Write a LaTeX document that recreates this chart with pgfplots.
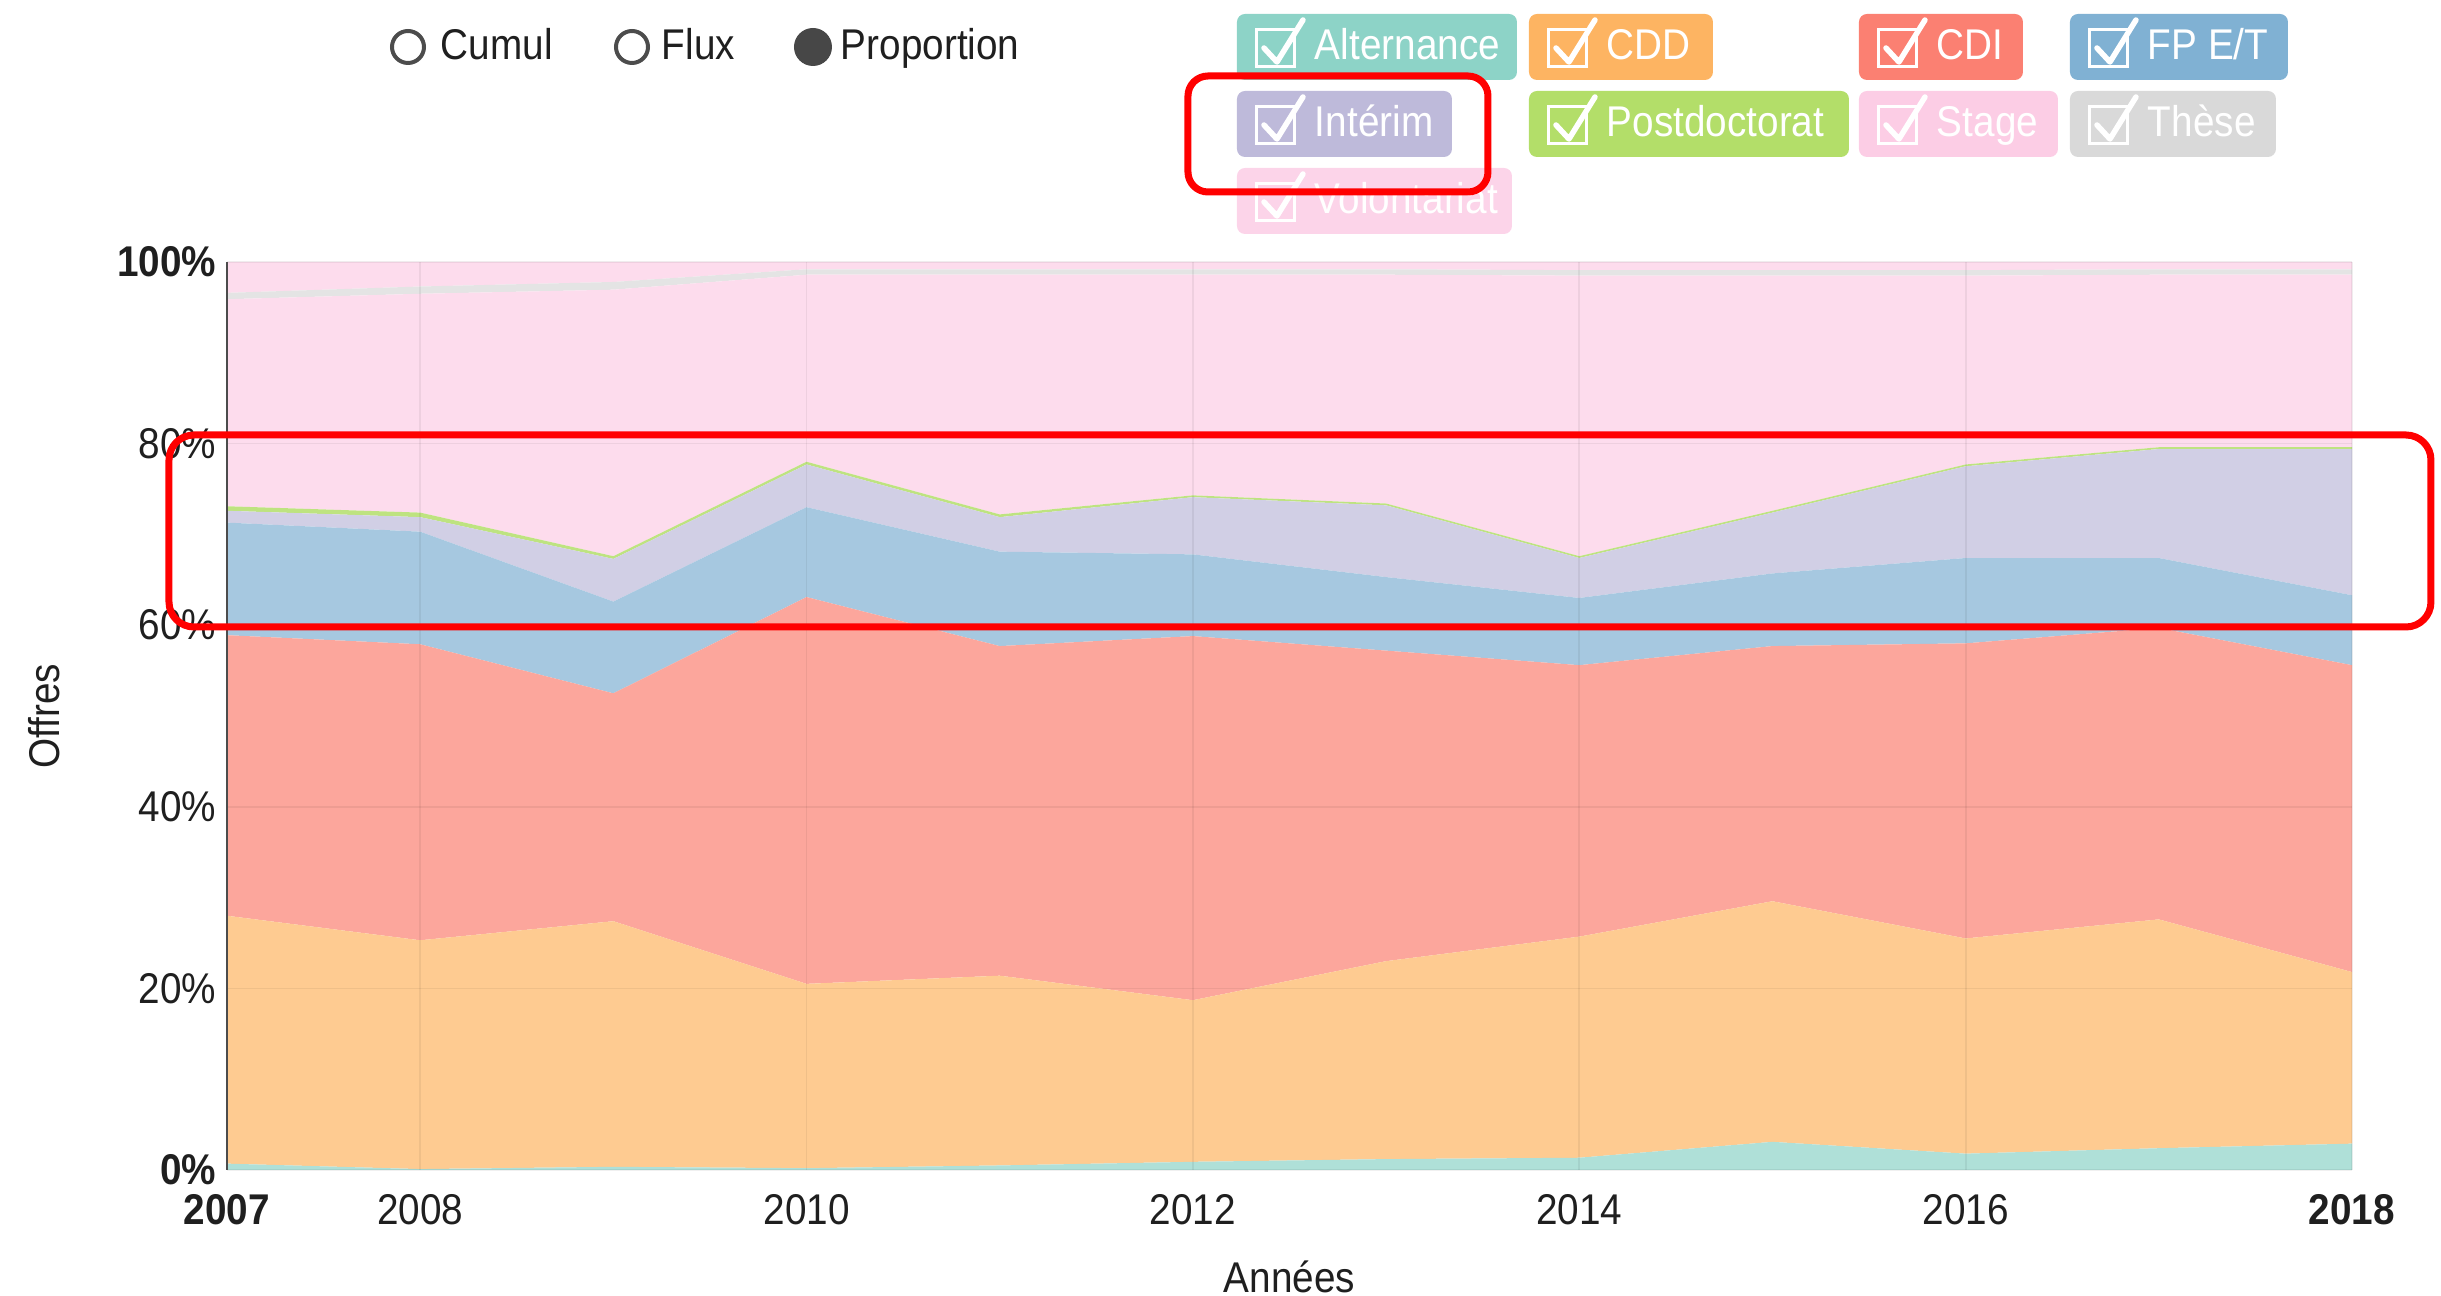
\documentclass[border=0pt]{standalone}
\usepackage{fontspec}
\setmainfont{Liberation Sans}[FakeStretch=0.9]
\usepackage{pgfplots}
\usepackage{pgfplotstable}
\pgfplotsset{compat=1.18}

\definecolor{calt}{HTML}{8DD3C7}
\definecolor{ccdd}{HTML}{FDB462}
\definecolor{ccdi}{HTML}{FB8072}
\definecolor{cfpet}{HTML}{80B1D3}
\definecolor{cint}{HTML}{BEBADA}
\definecolor{cpost}{HTML}{B3DE69}
\definecolor{cstage}{HTML}{FCCDE5}
\definecolor{cthese}{HTML}{D9D9D9}
\definecolor{cvol}{HTML}{FCCDE5}

\pgfplotstableread{
year alt cdd cdi fpet interim postdoc stage these volont
2007 0.7 27.3 30.9 12.4 1.3 0.5 22.8 0.7 3.4
2008 0.1 25.2 32.6 12.4 1.6 0.5 24.1 0.8 2.7
2009 0.35 27.05 25.1 10.1 4.7 0.3 29.35 0.85 2.2
2010 0.2 20.3 42.6 9.9 4.7 0.3 20.6 0.6 0.8
2011 0.5 20.9 36.3 10.4 3.8 0.3 26.4 0.6 0.8
2012 0.9 17.8 40.1 9.0 6.3 0.2 24.3 0.6 0.8
2013 1.2 21.8 34.2 8.1 7.9 0.2 25.2 0.6 0.8
2014 1.35 24.35 29.9 7.4 4.4 0.2 30.9 0.6 0.9
2015 3.1 26.5 28.1 8.0 6.7 0.2 25.9 0.6 0.9
2016 1.8 23.7 32.5 9.4 10.1 0.2 20.8 0.6 0.9
2017 2.4 25.2 32.1 7.7 12.0 0.2 19.0 0.6 0.8
2018 2.9 18.9 33.8 7.7 16.1 0.2 19.0 0.6 0.8
}\data

\newcommand{\fnt}{\fontsize{8.6}{10}\selectfont}

\newcommand{\legbox}[5]{%
  \fill[#4, rounded corners=1.6pt] (#1,#3-33) rectangle (#2,#3+33);
  \draw[white, line width=0.6pt] (#1+20,#3-17) rectangle (#1+58,#3+20);
  \draw[white, line width=1.1pt, line cap=round, line join=round] (#1+27,#3+1) -- (#1+40,#3+15) -- (#1+66,#3-27);
  \node[anchor=base west, text=white, inner sep=0pt, font=\fnt] at (#1+77,#3+13) {#5};
}

\begin{document}
\begin{tikzpicture}
\useasboundingbox (0pt,0pt) rectangle (488.2pt,-259.2pt);

\begin{axis}[
  at={(45.4pt,-234pt)}, anchor=south west,
  scale only axis, width=425pt, height=181.6pt,
  xmin=2007, xmax=2018, ymin=0, ymax=100,
  stack plots=y,
  axis on top,
  xtick={2007,2008,2010,2012,2014,2016,2018},
  xticklabels={\textbf{2007},2008,2010,2012,2014,2016,\textbf{2018}},
  ytick={0,20,40,60,80,100},
  yticklabels={\textbf{0\%},20\%,40\%,60\%,80\%,\textbf{100\%}},
  major tick length=0pt,
  grid=major,
  grid style={black, opacity=0.06, line width=0.35pt},
  axis x line*=bottom, axis y line*=left,
  x axis line style={draw=none},
  y axis line style={draw=black!70, line width=0.5pt, -},
  tick label style={font=\fnt, text=black!88},
  xticklabel style={yshift=-1.3pt},
  yticklabel style={xshift=1.4pt},
  label style={font=\fnt, text=black!88},
  xlabel={Années}, ylabel={Offres},
  xlabel style={at={(axis description cs:0.5,-0.118)}, anchor=center},
  ylabel style={at={(axis description cs:-0.086,0.5)}, anchor=center},
]
\addplot[fill=calt!70!white, draw=none] table[x=year,y=alt]{\data} \closedcycle;
\addplot[fill=ccdd!70!white, draw=none] table[x=year,y=cdd]{\data} \closedcycle;
\addplot[fill=ccdi!70!white, draw=none] table[x=year,y=cdi]{\data} \closedcycle;
\addplot[fill=cfpet!70!white, draw=none] table[x=year,y=fpet]{\data} \closedcycle;
\addplot[fill=cint!70!white, draw=none] table[x=year,y=interim]{\data} \closedcycle;
\addplot[fill=cpost!85!white, draw=none] table[x=year,y=postdoc]{\data} \closedcycle;
\addplot[fill=cstage!70!white, draw=none] table[x=year,y=stage]{\data} \closedcycle;
\addplot[fill=cthese!70!white, draw=none] table[x=year,y=these]{\data} \closedcycle;
\addplot[fill=cvol!70!white, draw=none] table[x=year,y=volont]{\data} \closedcycle;
\end{axis}

\begin{scope}[x=0.2pt,y=-0.2pt]
  % radio buttons
  \draw[black!70, line width=0.8pt] (408,47) circle[radius=16];
  \node[anchor=base west, inner sep=0pt, font=\fnt, text=black!88] at (440,60) {Cumul};
  \draw[black!70, line width=0.8pt] (632,47) circle[radius=16];
  \node[anchor=base west, inner sep=0pt, font=\fnt, text=black!88] at (661,60) {Flux};
  \fill[black!72] (813,47) circle[radius=19];
  \node[anchor=base west, inner sep=0pt, font=\fnt, text=black!88] at (840,60) {Proportion};
  % legend
  \legbox{1237}{1517}{47}{calt}{Alternance}
  \legbox{1529}{1713}{47}{ccdd}{CDD}
  \legbox{1859}{2023}{47}{ccdi}{CDI}
  \legbox{2070}{2288}{47}{cfpet}{FP E/T}
  \legbox{1237}{1452}{124}{cint}{Intérim}
  \legbox{1529}{1849}{124}{cpost}{Postdoctorat}
  \legbox{1859}{2058}{124}{cstage}{Stage}
  \legbox{2070}{2276}{124}{cthese}{Thèse}
  \legbox{1237}{1512}{201}{cvol!85!white}{Volontariat}
  % red annotation boxes
  \draw[red, line width=1.4pt, rounded corners=4pt] (1188,76) rectangle (1488,192);
  \draw[red, line width=1.4pt, rounded corners=5pt] (169,435) rectangle (2431,627);
\end{scope}
\end{tikzpicture}
\end{document}
